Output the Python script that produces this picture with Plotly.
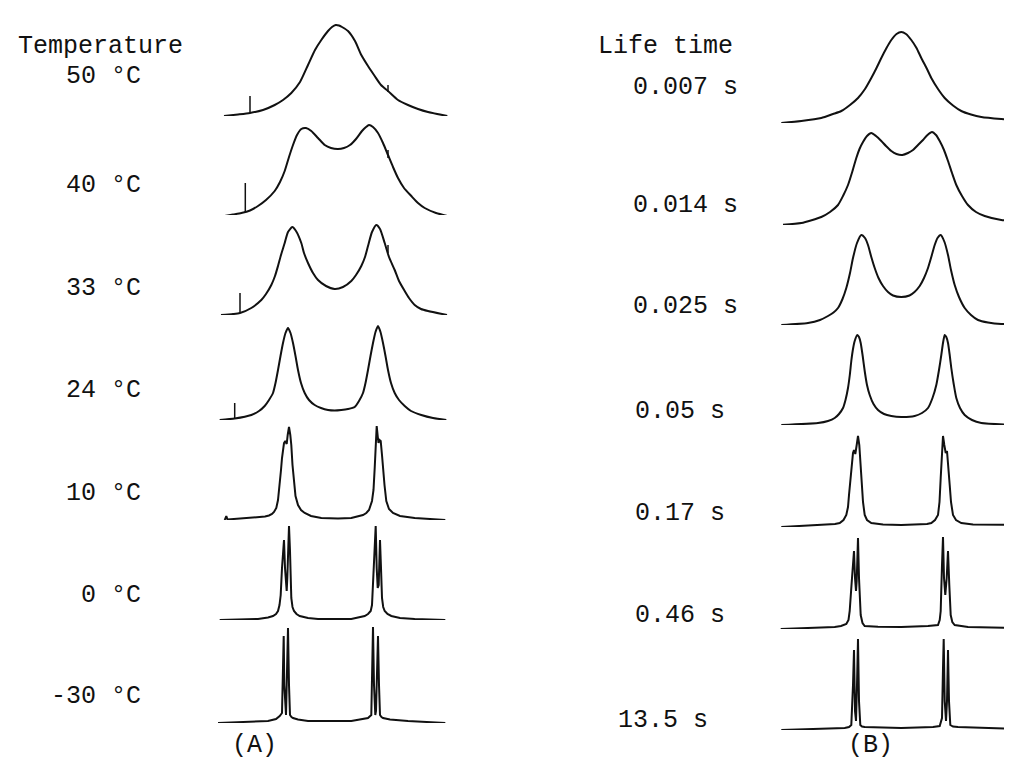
import plotly.graph_objects as go

W, H = 1012, 776

# ---------------- data ----------------
# x: frequency offset (arbitrary units), y: intensity (arbitrary units)
A50 = [(6, 0), (20, 1.5), (32, 3), (45, 6), (56.7, 11), (65, 16), (73.3, 23), (82, 34), (90, 51), (97, 66),
       (103.3, 76), (110, 85), (114, 89), (117.7, 91), (121, 90.5), (124, 89), (130, 85), (137, 75), (143.3, 61),
       (150, 50), (156.7, 40), (163, 31), (170, 25), (180, 16), (190, 11), (200, 7), (210, 4), (229.3, 0)]
A40 = [(6.7, 0), (15, 1.5), (23.3, 3), (32, 5.5), (40, 10), (48, 16), (56.7, 25), (62, 34), (66.7, 45),
       (71, 59), (75, 71), (79, 81), (83.3, 87), (88, 88), (93.3, 85), (100, 78), (106.7, 71), (113, 68),
       (120, 67), (126, 68), (132, 71), (138, 77), (144, 85), (148, 89), (151, 91), (155, 89), (160, 83),
       (165, 73), (170, 61), (175, 49), (180, 38), (186, 28), (193.3, 20), (200, 13), (206.7, 8), (218, 3),
       (229.3, 0)]
A33 = [(3, 0), (15, 1), (22, 2), (33.3, 7), (43.3, 15), (48, 21), (53.3, 30), (57, 39), (60, 49), (63, 60),
       (66.7, 72), (70, 83), (74.3, 88), (78, 84), (83.3, 72), (86, 62), (90, 52), (95, 42), (100, 35),
       (108, 29), (116.7, 26), (125, 28), (133.3, 34), (138, 40), (143.3, 49), (147, 58), (150, 69),
       (154, 83), (158.3, 90), (162, 86), (166.7, 72), (171, 58), (176.7, 45), (181, 34), (186.7, 24),
       (191, 17), (196.7, 10), (203, 6), (210, 4), (229, 0)]
A24 = [(1.7, 0), (16.7, 1.5), (33.3, 5), (41, 9), (46.7, 14), (51, 20), (55, 27), (57.5, 37), (60, 50),
       (62.5, 64), (65, 77), (67.5, 87), (70, 92), (72.5, 87), (75, 77), (77.5, 64), (80, 50), (83, 37),
       (86.7, 27), (91, 20), (96.7, 15), (103, 12), (110, 10), (116.7, 9.5), (123.3, 10), (130, 11),
       (136.7, 13), (141, 19), (145, 27), (147.5, 37), (150, 50), (152.5, 64), (155, 77), (157.5, 88),
       (160, 94), (162.5, 88), (165, 77), (167.5, 64), (170, 50), (173, 37), (176.7, 27), (181, 20),
       (186.7, 14), (193, 9), (203.3, 5), (215, 2), (228.3, 0)]
A10 = [(6.7, 0), (8.3, 4), (9.5, 0.5), (25, 1.5), (40, 2.5), (47, 3.5), (51, 4.5), (54, 6), (56, 8),
       (58.3, 12), (60, 20), (61.7, 35), (63, 50), (64, 62), (66, 77), (67.3, 79), (68.7, 76), (69.7, 85),
       (71, 93), (72.3, 85), (73.3, 75), (74.5, 55), (76, 35), (77.5, 24), (80, 15), (83, 10), (86.7, 7),
       (93, 4), (103.3, 2), (120, 1.5), (133.3, 2), (140, 3.5), (145, 5), (148.3, 7), (151, 10), (154, 19),
       (155.5, 30), (156.7, 52), (157.7, 75), (158.7, 94), (159.7, 84), (160.5, 77), (161.5, 80),
       (162.7, 79), (164, 65), (165, 52), (166.5, 35), (168.3, 19), (171, 11), (175, 7), (182, 4),
       (196.7, 2), (227.3, 0)]
A0 = [(1.7, 0), (40, 1), (50, 2.5), (55, 4), (58, 6), (60, 9), (61.5, 15), (62.7, 25), (64, 52), (65.3, 72),
      (66, 80), (67, 52), (68, 32), (68.7, 29), (69.3, 42), (70.3, 82), (71, 94), (72, 69), (73.3, 22),
      (74.5, 13), (76, 9), (78.5, 6), (81.7, 4), (90, 2), (100, 1), (133.3, 1), (141, 2.5), (146.7, 4),
      (150, 6), (152.7, 9), (154, 15), (155, 35), (156.7, 75), (157.7, 94), (158.7, 52), (159.7, 32),
      (160.7, 35), (161.3, 69), (162, 80), (163, 52), (164, 22), (165.2, 13), (166.7, 9), (169.5, 6),
      (173.3, 4), (182, 2), (196.7, 1), (227.3, 0)]
AM30 = [(0, 0), (50, 2), (58, 4), (61.7, 7), (64, 10), (65, 55), (65.7, 87), (66.3, 38), (67.3, 10), (68, 8),
        (68.7, 38), (70, 95), (71, 38), (72, 8), (73.5, 6), (75, 5), (80, 3.5), (90, 2), (133.3, 2),
        (143, 3.5), (150, 5), (153.3, 8), (154.3, 55), (155, 96), (156, 38), (157.3, 8), (158, 12),
        (159, 55), (160, 87), (161, 38), (162, 8), (163.5, 6), (165, 5), (172, 3.5), (190, 2), (227.3, 0)]

# small spikes (x, y_from, y_to) in panel A
A_SPIKES = {
    "50": [(32, 3, 20), (170, 24, 31)],
    "40": [(27.3, 4, 33), (170, 58, 66)],
    "33": [(22, 2, 22), (170, 62, 70)],
    "24": [(16.7, 1.5, 17)],
}

B007 = [(3.3, 0), (23.3, 2), (43.3, 5), (55, 9), (63.3, 12), (72, 18), (80, 25), (87, 34), (93.3, 45),
        (98.5, 55), (103.3, 65), (108.5, 75), (113.3, 83), (118.5, 89), (123.3, 91), (128, 89), (133.3, 83),
        (138.5, 75), (143.3, 65), (148.5, 55), (153.3, 45), (160, 34), (166.7, 25), (175, 17.5),
        (183.3, 12), (193, 8.5), (203.3, 6), (223.3, 4), (240, 3)]
B014 = [(5, 0.3), (23.3, 2), (43.3, 8), (52, 13), (60, 20), (65, 29), (70, 40), (74.5, 54), (78.3, 67),
        (81.5, 76), (85, 83), (89, 89), (93.3, 92), (98, 89), (103.3, 84), (108, 79), (113.3, 74),
        (118.5, 71), (124.3, 70), (130, 72), (135, 75), (140, 80), (145, 85), (149.5, 90), (154, 93),
        (158, 90), (161.7, 84), (166, 75), (170, 64), (174, 52), (178.3, 40), (184, 29), (190, 20),
        (198, 13), (206.7, 9), (223.3, 5), (240, 4)]
B025 = [(3.3, 0), (30, 2), (42, 5), (50, 9), (55.5, 12.5), (60, 17), (64.5, 26), (68.3, 37), (72, 52),
        (75, 67), (79, 82), (83.3, 90), (87, 87), (90, 80), (93.3, 68), (96.7, 57), (100.5, 47), (105, 39),
        (110, 33), (115, 29.5), (123.3, 28), (131.5, 29.5), (136.5, 33), (141.7, 39), (146, 47), (150, 57),
        (153.3, 68), (156.7, 80), (159.5, 87), (162.7, 90), (166.5, 83), (170, 70), (173, 55), (176.7, 40),
        (181, 28), (186.7, 17), (193, 10), (200, 5), (210, 2.5), (223.3, 1), (240, 1)]
B05 = [(3.3, 0), (40, 2), (50, 4), (56.7, 7), (61, 11), (65, 17), (67.5, 25), (70, 37), (71.8, 50),
       (73.3, 64), (75, 76), (76.7, 84), (79.3, 90), (81, 88), (82.7, 82), (84.7, 69), (86.7, 54), (89, 40),
       (91.7, 30), (95.5, 21), (100, 15), (106, 11), (113.3, 9), (123.3, 8), (136.7, 9), (144, 12),
       (150, 17), (154.5, 27), (158.3, 40), (161, 55), (163.3, 70), (165, 82), (166.7, 90), (168.3, 88),
       (170, 82), (171.7, 70), (173.3, 57), (175.7, 41), (178.3, 27), (182, 17), (186.7, 10), (194, 5),
       (203.3, 2), (240, 0)]
B17 = [(3.3, 0), (50, 2), (57, 3), (61.7, 4), (65.5, 7), (68.3, 12), (70, 20), (71, 32), (73.3, 59), (75, 74),
       (76, 77), (77.3, 73), (78.7, 82), (80, 91), (81.3, 82), (82.3, 66), (83.3, 49), (85, 25), (86.7, 12),
       (89, 7), (93.3, 4), (105, 2.5), (123.3, 2), (140, 2.5), (149, 3), (153.3, 4), (157, 7), (160, 12),
       (161.5, 25), (162.7, 49), (164, 82), (165, 91), (166.3, 82), (167.7, 74), (169, 76), (170, 66),
       (171.7, 42), (173, 25), (175, 12), (178, 7), (183.3, 4), (195, 2.5), (240, 2)]
B46 = [(2.7, 0), (56.7, 2), (63, 3), (68.3, 5), (70.5, 9), (71.7, 18), (74, 51), (76, 78), (77, 51), (78, 38),
       (78.7, 48), (80, 91), (81, 51), (82.7, 14), (84.5, 6), (86.7, 3), (100, 2.3), (123.3, 2), (150, 3),
       (157, 3.5), (160, 4), (161.7, 9), (162.7, 18), (164, 64), (165, 92), (166, 51), (167.3, 34),
       (168.7, 51), (170, 78), (171.3, 44), (172.7, 14), (174.3, 7), (176.7, 4), (190, 2), (240, 1)]
B135 = [(3.3, 0), (66.7, 2), (71, 3), (73.3, 5), (75, 45), (76, 80), (77, 19), (78, 9), (79, 45), (80, 91),
        (81, 29), (82.3, 5), (84, 3.5), (86.7, 3), (123.3, 2), (155, 3), (161.7, 4), (164, 12), (165, 62),
        (165.7, 91), (166.7, 29), (168, 9), (169, 29), (170, 80), (171, 29), (172.3, 5), (175, 3.5),
        (180, 3), (240, 1)]

temp_labels = ["50 °C", "40 °C", "33 °C", "24 °C", "10 °C", "0 °C", "-30 °C"]
life_labels = ["0.007 s", "0.014 s", "0.025 s", "0.05 s", "0.17 s", "0.46 s", "13.5 s"]

A_SPECTRA = [A50, A40, A33, A24, A10, A0, AM30]
A_KEYS = ["50", "40", "33", "24", "10", "0", "-30"]
B_SPECTRA = [B007, B014, B025, B05, B17, B46, B135]
A_SMOOTH = [True, True, True, True, False, False, False]
B_SMOOTH = [True, True, True, True, False, False, False]

# ---------------- layout (pixels) ----------------
A_X0, A_X1, A_RANGE = 210, 440, 230
B_X0, B_X1, B_RANGE = 770, 1010, 240
A_BASE = [108, 208, 307, 412, 512, 612, 715]
B_BASE = [115, 217, 317, 417, 519, 621, 722]
A_LABEL_Y = [68, 178, 280, 382, 485, 587, 688]
B_LABEL_Y = [80, 197, 298, 403, 505, 607, 712]
B_LABEL_X = [623, 623, 623, 625, 625, 625, 608]
ROW_H = 100

LINE = dict(color="#111111", width=2)
FONT = dict(family="Liberation Mono, Courier New, monospace", size=25, color="#111111")

fig = go.Figure()
layout = {}
n = 0


def add_axes(x0, x1, xr, base):
    global n
    n += 1
    sx = "" if n == 1 else str(n)
    layout["xaxis" + sx] = dict(domain=[x0 / W, x1 / W], range=[0, xr], visible=False, fixedrange=True,
                                anchor="y" + sx)
    layout["yaxis" + sx] = dict(domain=[(H - base) / H, (H - base + ROW_H) / H], range=[0, ROW_H],
                                visible=False, fixedrange=True, anchor="x" + sx)
    return "x" + sx, "y" + sx


for i, spec in enumerate(A_SPECTRA):
    xa, ya = add_axes(A_X0, A_X1, A_RANGE, A_BASE[i])
    xs, ys = zip(*spec)
    fig.add_trace(go.Scatter(x=xs, y=ys, mode="lines", xaxis=xa, yaxis=ya,
                             line=dict(LINE, shape="spline", smoothing=0.6) if A_SMOOTH[i] else LINE,
                             hoverinfo="skip", showlegend=False))
    for sx_, y0, y1 in A_SPIKES.get(A_KEYS[i], []):
        fig.add_trace(go.Scatter(x=[sx_, sx_], y=[y0, y1], mode="lines", xaxis=xa, yaxis=ya,
                                 line=dict(color="#111111", width=1.5), hoverinfo="skip", showlegend=False))

for i, spec in enumerate(B_SPECTRA):
    xa, ya = add_axes(B_X0, B_X1, B_RANGE, B_BASE[i])
    xs, ys = zip(*spec)
    fig.add_trace(go.Scatter(x=xs, y=ys, mode="lines", xaxis=xa, yaxis=ya,
                             line=dict(LINE, shape="spline", smoothing=0.6) if B_SMOOTH[i] else LINE,
                             hoverinfo="skip", showlegend=False))

ann = []


def label(text, x, y, anchor):
    ann.append(dict(text=text, x=x / W, y=1 - y / H, xref="paper", yref="paper", xanchor=anchor,
                    yanchor="middle", showarrow=False, font=FONT))


label("Temperature", 8, 38, "left")
label("Life time", 588, 38, "left")
for t, y in zip(temp_labels, A_LABEL_Y):
    label(t, 135, y, "right")
for t, x, y in zip(life_labels, B_LABEL_X, B_LABEL_Y):
    label(t, x, y, "left")
label("(A)", 246, 737, "center")
label("(B)", 862, 737, "center")

fig.update_layout(width=W, height=H, margin=dict(l=0, r=0, t=0, b=0), paper_bgcolor="white",
                  plot_bgcolor="white", annotations=ann, showlegend=False, **layout)

fig.write_html("out.html", include_plotlyjs=True, config={"displayModeBar": False})
